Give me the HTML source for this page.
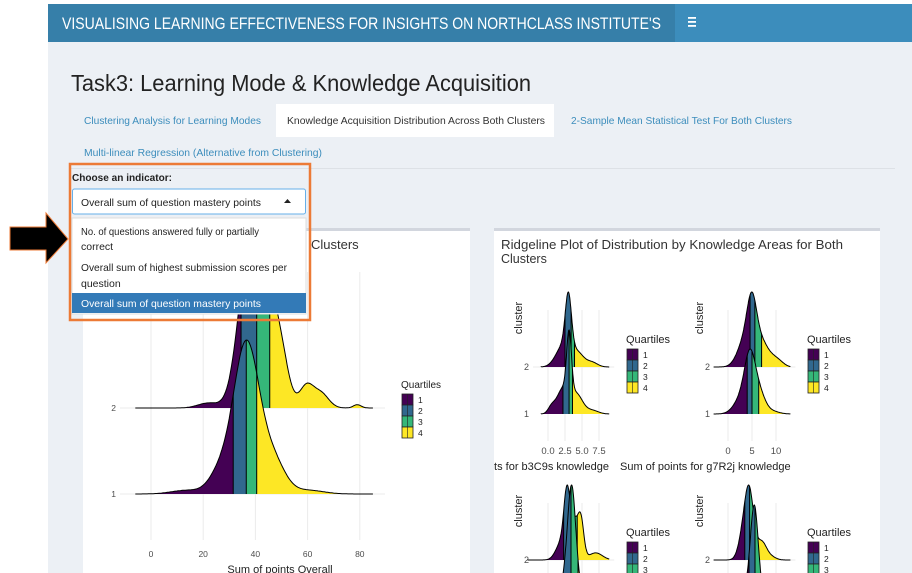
<!DOCTYPE html>
<html><head><meta charset="utf-8"><style>
html,body{margin:0;padding:0;background:#fff;width:912px;height:573px;overflow:hidden;}
svg{display:block;font-family:"Liberation Sans",sans-serif;}
</style></head><body>
<svg id="s" width="912" height="573" viewBox="0 0 912 573" xmlns="http://www.w3.org/2000/svg" overflow="hidden">
<defs><clipPath id="frame"><rect x="0" y="0" width="912" height="573"/></clipPath><clipPath id="rp"><rect x="494" y="228" width="386" height="345"/></clipPath></defs>
<rect x="48" y="4" width="864" height="569" fill="#ecf0f5"/>
<rect x="48" y="4" width="627" height="38" fill="#367fa9"/>
<rect x="675" y="4" width="237" height="38" fill="#3c8dbc"/>
<text x="62" y="29" font-size="17" fill="#fff" textLength="599" lengthAdjust="spacingAndGlyphs">VISUALISING LEARNING EFFECTIVENESS FOR INSIGHTS ON NORTHCLASS INSTITUTE'S</text>
<rect x="688" y="17" width="8" height="1.8" fill="#fff"/><rect x="688" y="21" width="8" height="1.8" fill="#fff"/><rect x="688" y="25" width="8" height="1.8" fill="#fff"/>
<text x="71" y="91" font-size="23" fill="#222" textLength="460" lengthAdjust="spacingAndGlyphs">Task3: Learning Mode &amp; Knowledge Acquisition</text>
<rect x="276" y="104" width="278" height="33" fill="#fff"/>
<text x="84" y="124" font-size="10.5" fill="#3c8dbc" textLength="177" lengthAdjust="spacingAndGlyphs">Clustering Analysis for Learning Modes</text>
<text x="287" y="124" font-size="10.5" fill="#333" textLength="258" lengthAdjust="spacingAndGlyphs">Knowledge Acquisition Distribution Across Both Clusters</text>
<text x="571" y="124" font-size="10.5" fill="#3c8dbc" textLength="221" lengthAdjust="spacingAndGlyphs">2-Sample Mean Statistical Test For Both Clusters</text>
<text x="84" y="156" font-size="10.5" fill="#3c8dbc" textLength="238" lengthAdjust="spacingAndGlyphs">Multi-linear Regression (Alternative from Clustering)</text>
<rect x="70" y="168" width="825" height="1" fill="#dde1e6"/>
<rect x="83" y="228" width="387" height="345" fill="#fff"/><rect x="83" y="228" width="387" height="3" fill="#d2d6de"/>
<rect x="494" y="228" width="386" height="345" fill="#fff"/><rect x="494" y="228" width="386" height="3" fill="#d2d6de"/>
<text x="311" y="249" font-size="13" fill="#333">Clusters</text>
<text x="501" y="249" font-size="12.5" fill="#333" textLength="342" lengthAdjust="spacingAndGlyphs">Ridgeline Plot of Distribution by Knowledge Areas for Both</text>
<text x="501" y="263" font-size="12.5" fill="#333">Clusters</text>
<g clip-path="url(#frame)"><g id="charts"></g></g>
<rect x="70" y="164" width="240" height="156" fill="none" stroke="#ec7a36" stroke-width="2.5"/>
<text x="72" y="181" font-size="10" font-weight="bold" fill="#222" textLength="100" lengthAdjust="spacingAndGlyphs">Choose an indicator:</text>
<rect x="72.5" y="189" width="233" height="25" fill="#fff" stroke="#66afe9" rx="2"/>
<text x="81" y="206" font-size="10.5" fill="#222" textLength="180" lengthAdjust="spacingAndGlyphs">Overall sum of question mastery points</text>
<path d="M284 203 L291 203 L287.5 199Z" fill="#222"/>
<rect x="72" y="218" width="234" height="96" fill="#fff" stroke="#ddd"/>
<text x="81" y="235" font-size="10.5" fill="#222" textLength="178" lengthAdjust="spacingAndGlyphs">No. of questions answered fully or partially</text>
<text x="81" y="250" font-size="10.5" fill="#222">correct</text>
<text x="81" y="271" font-size="10.5" fill="#222" textLength="206" lengthAdjust="spacingAndGlyphs">Overall sum of highest submission scores per</text>
<text x="81" y="287" font-size="10.5" fill="#222">question</text>
<rect x="72" y="293" width="234" height="20" fill="#337ab7"/>
<text x="81" y="307" font-size="10.5" fill="#fff" textLength="180" lengthAdjust="spacingAndGlyphs">Overall sum of question mastery points</text>
<path d="M10 227 L46 227 L46 213 L68 239 L46 263 L46 250 L10 250Z" fill="#000" stroke="#ec7a36" stroke-width="1"/>
</svg>
<script>
const NS="http://www.w3.org/2000/svg",G=document.getElementById('charts');
const C=["#440154","#31688e","#35b779","#fde725"];let cid=0;
function el(t,a,p){const e=document.createElementNS(NS,t);for(const k in a)e.setAttribute(k,a[k]);(p||G).appendChild(e);return e;}
function txt(x,y,s,fs,extra){const e=el('text',Object.assign({x,y,'font-size':fs,fill:'#4d4d4d'},extra||{}));e.textContent=s;return e;}
function ridge(sx,base,h,lo,hi,mix,bounds){
 const f=v=>mix.reduce((a,m)=>a+m[2]*Math.exp(-0.5*((v-m[0])/m[1])**2),0);
 let mx=0,pts=[];for(let i=0;i<=200;i++){const v=lo+(hi-lo)*i/200;const d=f(v);mx=Math.max(mx,d);pts.push([v,d]);}
 let d="M"+sx(lo)+" "+base;pts.forEach(p=>d+=" L"+sx(p[0]).toFixed(1)+" "+(base-p[1]/mx*h).toFixed(1));d+=" L"+sx(hi)+" "+base+"Z";
 const id="c"+(cid++);const cp=el('clipPath',{id});el('path',{d},cp);
 const g=el('g',{'clip-path':'url(#'+id+')'});const xs=[sx(lo)-2,...bounds,sx(hi)+2];
 for(let i=0;i<4;i++)el('rect',{x:xs[i],y:base-h-5,width:xs[i+1]-xs[i],height:h+5,fill:C[i]},g);
 bounds.forEach(b=>el('line',{x1:b,x2:b,y1:base-h-5,y2:base,stroke:'#000','stroke-width':1},g));
 let line="M"+sx(lo)+" "+base;pts.forEach(p=>line+=" L"+sx(p[0]).toFixed(1)+" "+(base-p[1]/mx*h).toFixed(1));
 el('path',{d:line,fill:'none',stroke:'#000','stroke-width':1});
}
function legend(x,y,fs){txt(x,y,"Quartiles",fs,{fill:'#222'});for(let i=0;i<4;i++){el('rect',{x:x+1,y:y+6+i*11,width:11,height:11,fill:C[i],stroke:'#222','stroke-width':.8});el('line',{x1:x+6.5,x2:x+6.5,y1:y+6+i*11,y2:y+17+i*11,stroke:'#222','stroke-width':.6});txt(x+17,y+15+i*11,String(i+1),8.5,{fill:'#222'});}}
{const sx=v=>151+v*2.61;
 [0,20,40,60,80].forEach(v=>{el('line',{x1:sx(v),x2:sx(v),y1:272,y2:540,stroke:'#ebebeb'});txt(sx(v),557,String(v),8.5,{'text-anchor':'middle'});});
 el('line',{x1:120,x2:385,y1:408,y2:408,stroke:'#ebebeb'});el('line',{x1:120,x2:385,y1:494,y2:494,stroke:'#ebebeb'});
 txt(116,411,"2",8.5,{'text-anchor':'end'});txt(116,497,"1",8.5,{'text-anchor':'end'});
 ridge(sx,408,180,-6,85,[[38,4.3,1],[45,3.5,.5],[50,3,.25],[59.5,2.6,.13],[65,3,.09],[79,1.5,.02],[22,4,.03]],[sx(34.5),sx(40.5),sx(45.5)]);
 ridge(sx,494,154,-6,85,[[36.5,5,1],[26,4,.12],[47,4.5,.2],[14,6,.025],[60,6,.025]],[sx(31.5),sx(36.5),sx(40.5)]);
 txt(280,573,"Sum of points Overall",11,{'text-anchor':'middle',fill:'#222'});
 legend(401,388,10);}
function small(ox,oy,sx,lo,hi,ticks,title,tx,anchor,r2,r1,two){
 ticks.forEach(t=>{el('line',{x1:sx(t[0]),x2:sx(t[0]),y1:oy+52,y2:oy+183,stroke:'#ebebeb'});txt(sx(t[0]),oy+196,t[1],9.5,{'text-anchor':'middle'});});
 const gt=el('text',{x:ox+27,y:oy+60,'font-size':11,fill:'#222',transform:'rotate(-90 '+(ox+27)+' '+(oy+60)+')','text-anchor':'middle'});gt.textContent="cluster";
 txt(ox+34,oy+112,"2",9,{'text-anchor':'end'});
 el('line',{x1:ox+38,x2:sx(hi)+5,y1:oy+109,y2:oy+109,stroke:'#ebebeb'});
 ridge(sx,oy+109,r2.h,lo,hi,r2.m,r2.b.map(sx));
 if(two){txt(ox+34,oy+159,"1",9,{'text-anchor':'end'});ridge(sx,oy+156,r1.h,lo,hi,r1.m,r1.b.map(sx));}
 if(title)txt(tx,oy+212,title,11,{'text-anchor':anchor,fill:'#222','clip-path':'url(#rp)'});
 legend(ox+131,oy+85,11);
}
small(495,258,v=>548+v*6.8,-1,9,[[0,"0.0"],[2.5,"2.5"],[5,"5.0"],[7.5,"7.5"]],"Sum of points for b3C9s knowledge",609,'end',
 {h:75,m:[[3,.45,1],[2.2,.9,.35],[4.2,1,.28],[6.5,.8,.08],[1,.8,.05]],b:[2.5,3.4,3.9]},
 {h:84,m:[[3.1,.35,1],[2.2,.9,.42],[4.2,.9,.32],[0.5,.5,.1],[6.5,.9,.06]],b:[2.2,3.1,3.6]},true);
small(676,258,v=>728+v*4.8,-3,13,[[0,"0"],[5,"5"],[10,"10"]],"Sum of points for g7R2j knowledge",620,'start',
 {h:75,m:[[5,1,1],[3.5,1.5,.5],[7,1.3,.45],[9.5,1.2,.15],[11,1,.05]],b:[4.6,5.6,7]},
 {h:65,m:[[4.6,1.1,1],[3,1.6,.35],[6.5,1.2,.4],[9,1.5,.06]],b:[4,5,6.4]},true);
small(495,451,v=>548+v*6.8,-3,9,[[0,""],[2.5,""],[5,""],[7.5,""]],"",0,'start',
 {h:75,m:[[2.8,.45,1],[3.8,.5,.6],[4.8,.45,.7],[7,1,.12],[2,.8,.3]],b:[2.3,3.3,4.3]},null,false);
small(676,451,v=>728+v*4.8,-3,13,[[0,""],[5,""],[10,""]],"",0,'start',
 {h:75,m:[[4.5,.9,1],[3.3,1,.45],[7,1,.3],[9,1,.05]],b:[3.5,4.5,5.5]},null,false);
ridge(v=>548+v*6.8,625,140,-3,9,[[3.5,.6,1],[2.5,1,.4],[5,1,.3]],[563,571,578]);
ridge(v=>728+v*4.8,625,120,-3,13,[[5.5,.8,1],[4,1.5,.4],[7.5,1.5,.3]],[749,755,762]);
</script>
</body></html>
